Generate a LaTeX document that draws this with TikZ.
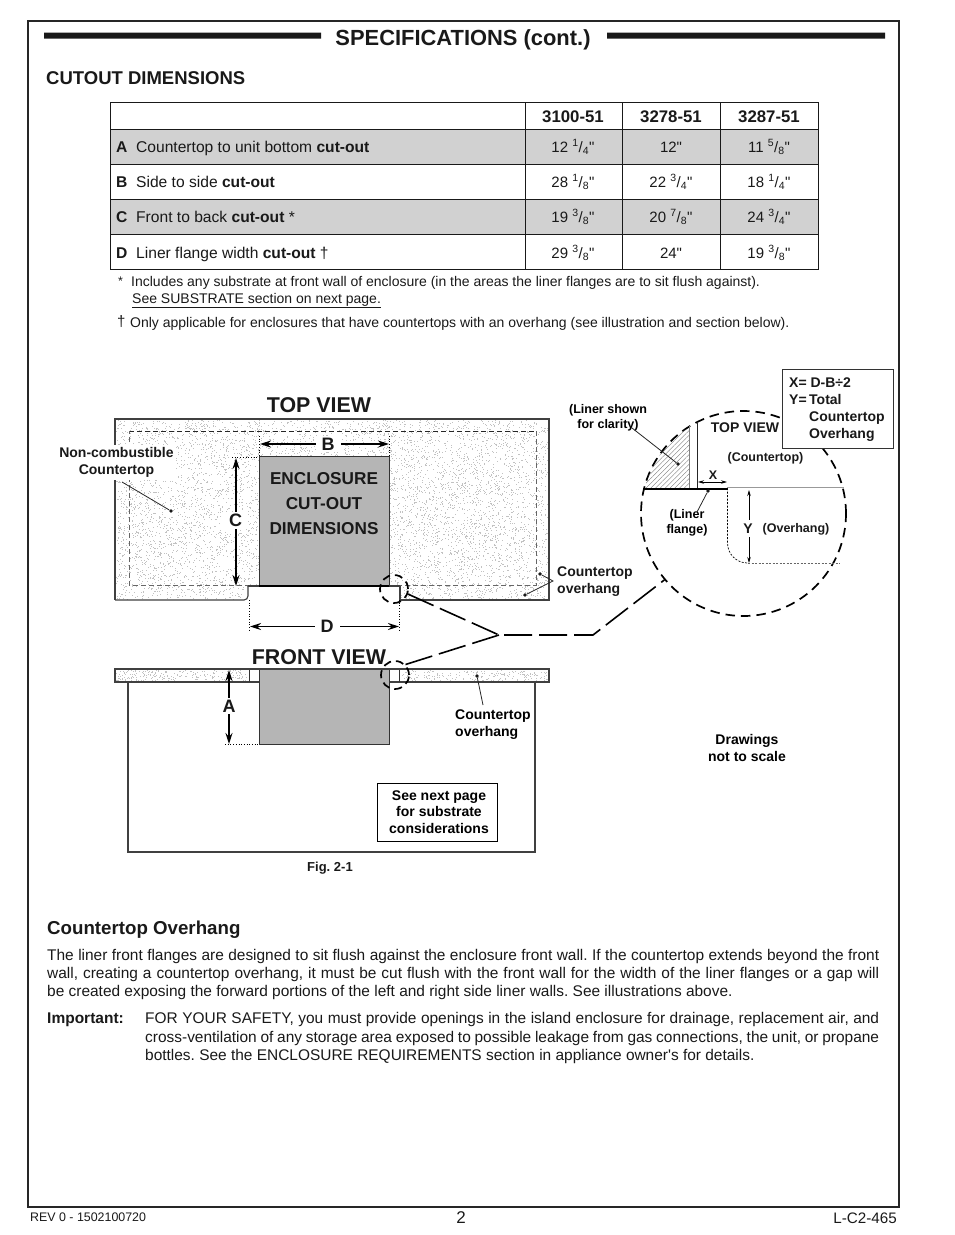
\documentclass[tikz,border=0pt]{standalone}
\usepackage{fontspec}
\setmainfont{Liberation Sans}
\newfontfamily\plainfont{Liberation Sans}
\frenchspacing
\usetikzlibrary{arrows.meta,patterns.meta}
\newcommand{\inch}{{\plainfont\symbol{34}}}
\newcommand{\frc}[2]{\textsuperscript{#1}/\textsubscript{#2}}
\newcommand{\jline}[2]{\makebox[#1][s]{#2}}
\newcommand{\stipple}[5]{%
    \foreach \i in {1,...,#5}{%
        \pgfmathsetmacro{\sx}{#1+rnd*(#3-#1)}%
        \pgfmathsetmacro{\sy}{#2+rnd*(#4-#2)}%
        \fill[black!24] (\sx,\sy) rectangle +(0.8,0.8);%
    }%
}
\definecolor{cutgray}{gray}{0.71}
\definecolor{rowgray}{gray}{0.82}
\tikzset{
    txt/.style={inner sep=0pt,font=\fontsize{#1}{#1}\selectfont,text=black!90},
    btxt/.style={inner sep=0pt,font=\fontsize{#1}{#1}\selectfont\bfseries,text=black!90},
    note/.style={btxt=12.5,align=center},
    dim/.style={btxt=18,fill=white,inner xsep=6pt,inner ysep=2pt},
    stack/.style={inner sep=0pt,align=left,anchor=north west,font=\fontsize{15.45}{18.1}\selectfont,text=black!90},
    dimline/.style={line width=1.4pt,{Stealth[length=11pt,width=7pt]}-{Stealth[length=11pt,width=7pt]}},
    dimsmall/.style={line width=0.7pt,{Stealth[length=6pt,width=3.5pt]}-{Stealth[length=6pt,width=3.5pt]}},
    leader/.style={line width=0.8pt,black!85},
    tick/.style={line width=0.7pt,dotted},
    dot/.style={circle,fill=black!90,inner sep=0pt,minimum size=3.6pt},
    outline/.style={line width=1.1pt,black!75},
    longdash/.style={line width=1.6pt,dash pattern=on 28pt off 7pt},
    zoomring/.style={circle,draw,line width=1.7pt,dash pattern=on 9.5pt off 6pt,inner sep=0pt,minimum size=#1},
}
\begin{document}
\begin{tikzpicture}[x=1pt,y=-1pt]
\useasboundingbox (0,0) rectangle (954,1235);
\pgfmathsetseed{11}
%page frame and title
\draw[line width=1.1pt,black!85] (28,21) rectangle (899,1207);
\fill[black!90] (44,32.5) rectangle (321,38.5) (607,32.5) rectangle (885,38.5);
\node[btxt=21.9,anchor=base](title) at (463,45.5) {SPECIFICATIONS (cont.)};
\node[btxt=18.5,anchor=base west](cutout) at (46,84.5) {CUTOUT DIMENSIONS};

%table
\fill[rowgray] (110,129.5) rectangle (818,164.5) (110,199.5) rectangle (818,234.5);
\draw[line width=0.9pt,black!90] (110,102.5) rectangle (818,269.5);
\foreach \y in {129.5,164.5,199.5,234.5} \draw[line width=0.7pt,black!90] (110,\y) -- (818,\y);
\foreach \x in {525,622,720} \draw[line width=0.7pt,black!90] (\x,102.5) -- (\x,269.5);
\foreach \x/\m/\t in {573/a/3100-51,671/b/3278-51,769/c/3287-51}
    \node[btxt=16.8,anchor=base](head\m) at (\x,122) {\t};
\foreach \y/\m/\t/\u in {152/A/Countertop to unit bottom/,187/B/Side to side/,222/C/Front to back/ *,258/D/Liner flange width/ \dag}{
    \node[btxt=15.6,anchor=base west](key\m) at (116,\y) {\m};
    \node[txt=15.6,anchor=base west](row\m) at (136,\y) {\t{} \textbf{cut-out}\u};
}
\foreach \y/\m/\p/\q/\r in {
    152/A/12 \frc{1}{4}\inch/12\inch/11 \frc{5}{8}\inch,
    187/B/28 \frc{1}{8}\inch/22 \frc{3}{4}\inch/18 \frc{1}{4}\inch,
    222/C/19 \frc{3}{8}\inch/20 \frc{7}{8}\inch/24 \frc{3}{4}\inch,
    258/D/29 \frc{3}{8}\inch/24\inch/19 \frc{3}{8}\inch}{
    \node[txt=15,anchor=base](val\m a) at (573,\y) {\p};
    \node[txt=15,anchor=base](val\m b) at (671,\y) {\q};
    \node[txt=15,anchor=base](val\m c) at (769,\y) {\r};
}
%footnotes
\node[txt=12.5,anchor=base west](star) at (118,285) {*};
\node[txt=14,anchor=base west](note1) at (131,286) {Includes any substrate at front wall of enclosure (in the areas the liner flanges are to sit flush against).};
\node[txt=14,anchor=base west](note1b) at (132,303) {\underline{See SUBSTRATE section on next page.}};
\node[txt=15,anchor=base west](dagger) at (117,326) {\dag};
\node[txt=14,anchor=base west](note2) at (130,327) {Only applicable for enclosures that have countertops with an overhang (see illustration and section below).};

%top view
\node[btxt=21.4,anchor=base](topview) at (319,412) {TOP VIEW};
\stipple{116}{420}{548}{599}{7500}
\draw[outline] (400,586) -- (400,600) -- (549,600) -- (549,419) -- (115,419) -- (115,600);
\fill[white] (244,586.5) rectangle (399.4,601);
\draw[outline,rounded corners=4pt] (115,600) -- (248,600) -- (248,586);
\draw[line width=0.7pt,black!85,dash pattern=on 5pt off 3pt] (129,431) -- (536,431);
\draw[line width=0.7pt,black!60,dash pattern=on 5pt off 3pt] (536,431) -- (536,585) -- (129,585) -- (129,431);
\draw[outline] (248,586) -- (400,586);
\draw[line width=1pt,black!80,fill=cutgray] (259,456) rectangle (389,586);
\draw[line width=1.8pt] (259,586) -- (389,586);
\node[btxt=17.2,align=center,font=\fontsize{17.2}{25}\selectfont\bfseries](cutlabel) at (324,504) {ENCLOSURE\\CUT-OUT\\DIMENSIONS};
%dimensions B C D
\draw[tick] (259,436) -- (259,456) (389,436) -- (389,456) (232,457) -- (259,457);
\draw[tick] (249,600) -- (249,632) (399,600) -- (399,632);
\draw[dimline] (260,444) -- (389,444);
\draw[dimline] (236,458) -- (236,586);
\draw[dimline] (250,626.5) -- (399,626.5);
\node[dim](dimB) at (328,444) {B};
\node[dim](dimC) at (235.5,520.5) {C};
\node[dim](dimD) at (327,626.5) {D};
\node[note,fill=white,inner sep=2pt,font=\fontsize{14}{17}\selectfont\bfseries](noncomb) at (116.5,462.5) {Non-combustible\\Countertop};
\node[dot](noncombdot) at (171,511) {};
\draw[leader] (122,482) -- (noncombdot);
\node[txt=14,font=\fontsize{14}{17}\selectfont\bfseries,align=left,anchor=west](overtop) at (557,581.5) {Countertop\\overhang};
\node[dot](overdot1) at (540,574) {};
\node[dot](overdot2) at (525,595) {};
\coordinate(overfork) at (553,581);
\draw[leader] (overdot1) -- (overfork) -- (overdot2);

%front view
\node[btxt=21.4,anchor=base](frontview) at (319,664) {FRONT VIEW};
\stipple{116}{670}{548}{681}{650}
\draw[outline] (115,669) rectangle (549,682);
\draw[outline] (128,682) |- (535,852) -- (535,682);
\fill[white] (249,669.6) rectangle (399,681.4);
\draw[line width=0.7pt,black!80] (249,669) -- (249,682) (399,669) -- (399,682);
\draw[line width=1pt,black!80,fill=cutgray] (259,669) rectangle (389,744);
\draw[outline] (115,669) -- (549,669);
\draw[tick] (225,744) -- (259,744);
\draw[dimline] (229,670) -- (229,744);
\node[dim](dimA) at (229,706) {A};
\node[dot](frontdot) at (477,676) {};
\node[inner sep=0pt,font=\fontsize{14}{17}\selectfont\bfseries,align=left,anchor=west](overfront) at (455,725) {Countertop\\overhang};
\draw[leader] (frontdot) -- (483,705);
\node[draw,line width=1pt,minimum width=120pt,minimum height=58pt,inner sep=0pt](nextbox) at (437,812) {};
\node[align=center,inner sep=0pt,font=\fontsize{14}{16.7}\selectfont\bfseries](nextpage) at (439,812) {See next page\\for substrate\\considerations};
\node[btxt=13](figlabel) at (330,868.5) {Fig. 2-1};
\node[align=center,inner sep=0pt,font=\fontsize{14}{17}\selectfont\bfseries](scale) at (747,747.5) {Drawings\\not to scale};

%zoom rings and their link
\node[zoomring=28pt,dash pattern=on 8pt off 5pt](ringtop) at (394,589) {};
\node[zoomring=28pt,dash pattern=on 8pt off 5pt](ringfront) at (395,675) {};
\node[zoomring=205pt](ringbig) at (743.5,513.5) {};
\coordinate(join) at (499,635);
\coordinate(bend) at (593,635);
\draw[longdash] (ringtop.340) -- (join) -- (bend) -- (ringbig.220);
\draw[longdash] (ringfront.45) -- (join);

%detail in the big ring
\begin{scope}
\clip (743.5,513.5) circle[radius=102pt];
\fill[pattern={Lines[angle=45,distance=3.4pt,line width=0.35pt]},pattern color=black!55] (640,420) rectangle (689,488);
\end{scope}
\draw[line width=1pt,black!50] (689,426) -- (689,488);
\draw[line width=0.8pt,black!85] (697,422) -- (697,488);
\draw[line width=0.8pt,black!40] (727,487.5) -- (844,487.5);
\draw[line width=2pt] (643,488.5) -- (727,488.5);
\draw[line width=0.7pt,dash pattern=on 2pt off 1.5pt,rounded corners=20pt] (727.5,488) -- (727.5,563) -- (748,563);
\draw[line width=0.6pt,black!60,dash pattern=on 2pt off 1.5pt] (748,563) -- (840,563);
\node[btxt=12.5](labX) at (713,475) {X};
\draw[dimsmall] (698,482) -- (727,482);
\draw[dimsmall] (749,490) -- (749,563);
\node[btxt=14,fill=white,inner xsep=2pt,inner ysep=4pt](labY) at (748,528.5) {Y};
\node[note](overlabel) at (796,529) {(Overhang)};
\node[note](counterlabel) at (765.5,458) {(Countertop)};
\node[btxt=14](toplabel) at (745,428) {TOP VIEW};
\node[align=center,inner sep=0pt,font=\fontsize{12.5}{15}\selectfont\bfseries](linerlabel) at (608,417.5) {(Liner shown\\for clarity)};
\node[dot](linerdot) at (678,464) {};
\draw[leader] (632,428) -- (linerdot);
\node[align=center,inner sep=0pt,font=\fontsize{12.5}{15}\selectfont\bfseries](flangelabel) at (687,522.5) {(Liner\\flange)};
\node[dot](flangedot) at (708,491) {};
\draw[leader] (flangedot) -- (697,512);
\node[draw=black!80,fill=white,line width=0.8pt,minimum width=111pt,minimum height=79pt,inner sep=0pt](keybox) at (837.5,408.5) {};
\node[inner sep=0pt,anchor=north west,align=left,font=\fontsize{14}{17}\selectfont\bfseries,text=black!90](keytext) at (789,378) {X= D-B÷2\\\makebox[20pt][l]{Y=}Total\\\hspace{20pt}Countertop\\\hspace{20pt}Overhang};

%text below
\node[btxt=18.7,anchor=base west](overhead) at (47,934) {Countertop Overhang};
\node[stack](para1) at (47,949) {\jline{832pt}{The liner front flanges are designed to sit flush against the enclosure front wall. If the countertop extends beyond the front}\\\jline{832pt}{wall, creating a countertop overhang, it must be cut flush with the front wall for the width of the liner flanges or a gap will}\\be created exposing the forward portions of the left and right side liner walls. See illustrations above.};
\node[btxt=15.5,anchor=base west](important) at (47,1023.5) {Important:};
\node[stack](para2) at (145,1012.5) {\jline{734pt}{FOR YOUR SAFETY, you must provide openings in the island enclosure for drainage, replacement air, and}\\\jline{734pt}{cross-ventilation of any storage area exposed to possible leakage from gas connections, the unit, or propane}\\bottles. See the ENCLOSURE REQUIREMENTS section in appliance owner{\plainfont\symbol{39}}s for details.};

%footer
\node[txt=12.4,anchor=west](rev) at (30,1217) {REV 0 - 1502100720};
\node[txt=17](pageno) at (461,1217.5) {2};
\node[txt=15.2,anchor=east](docno) at (897,1218) {L-C2-465};
\end{tikzpicture}
\end{document}
